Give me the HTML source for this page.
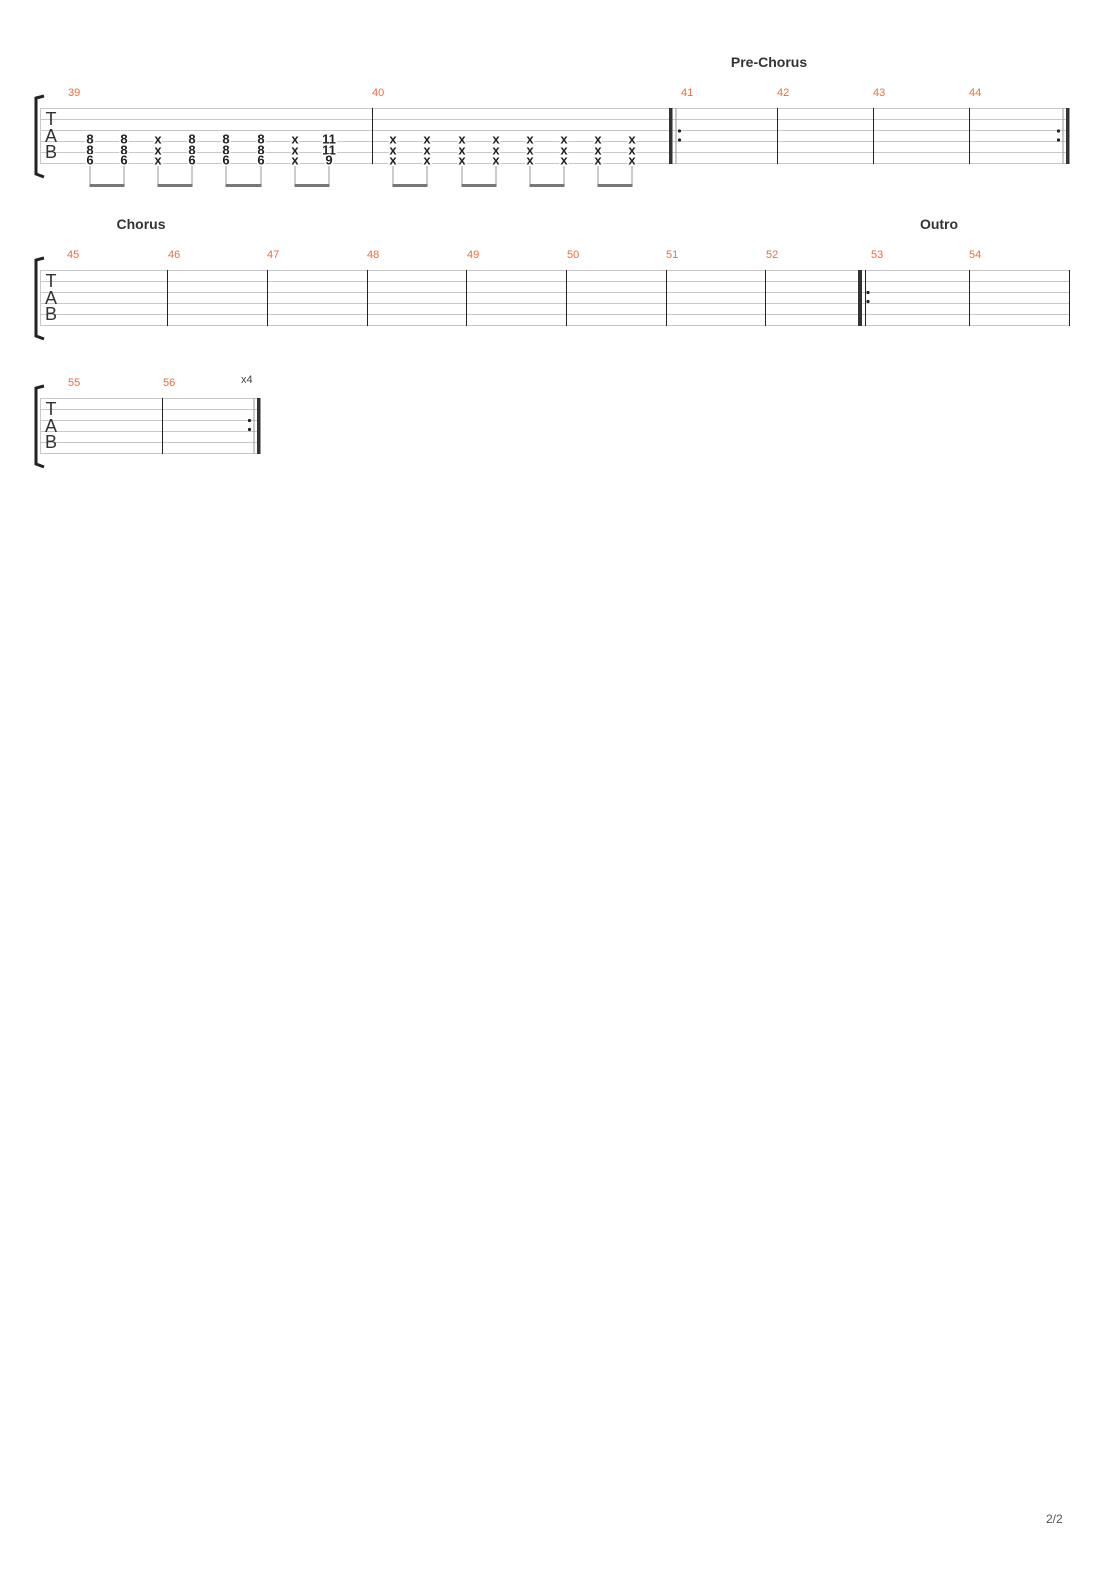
<!DOCTYPE html>
<html><head><meta charset="utf-8"><style>
html,body{margin:0;padding:0;background:#fff;width:1110px;height:1570px;overflow:hidden}
svg{display:block}
.st line{stroke:#c8c8c8;stroke-width:1}
.mn{font:11px "Liberation Sans",sans-serif;fill:#f26b3a}
.sec{font:bold 14px "Liberation Sans",sans-serif;fill:#333}
.nt{font:bold 13px "Liberation Sans",sans-serif;fill:#222;text-anchor:middle;dominant-baseline:central;paint-order:stroke;stroke:#fff;stroke-width:3px}
.tab{font:19px "Liberation Sans",sans-serif;fill:#333;text-anchor:middle}
</style></head><body>
<svg width="1110" height="1570" viewBox="0 0 1110 1570" xmlns="http://www.w3.org/2000/svg">
<defs>
<g id="tabl">
<text class="tab" x="51" y="25" style="font-size:18px">T</text>
<text class="tab" x="51" y="42" style="font-size:18px">A</text>
<text class="tab" x="51" y="58" style="font-size:18px">B</text>
</g>
</defs>

<!-- System 1 -->
<text class="sec" x="769" y="67" text-anchor="middle">Pre-Chorus</text>
<g class="st">
<line x1="40" y1="108.5" x2="1069" y2="108.5"/><line x1="40" y1="119.5" x2="1069" y2="119.5"/>
<line x1="40" y1="130.5" x2="1069" y2="130.5"/><line x1="40" y1="141.5" x2="1069" y2="141.5"/>
<line x1="40" y1="152.5" x2="1069" y2="152.5"/><line x1="40" y1="163.5" x2="1069" y2="163.5"/>
<line x1="40.5" y1="108" x2="40.5" y2="164"/>
</g>
<path d="M44 96 L36 98 L36 174 L44 177" fill="none" stroke="#222" stroke-width="3"/>
<g transform="translate(0,100)"><use href="#tabl"/></g>
<g stroke="#222" stroke-width="1">
<line x1="372.5" y1="108" x2="372.5" y2="164"/>
<line x1="777.5" y1="108" x2="777.5" y2="164"/>
<line x1="873.5" y1="108" x2="873.5" y2="164"/>
<line x1="969.5" y1="108" x2="969.5" y2="164"/>
</g>
<rect x="669" y="108" width="3.5" height="56" fill="#333"/>
<line x1="676" y1="108" x2="676" y2="164" stroke="#999" stroke-width="1"/>
<circle cx="679.5" cy="131" r="1.6" fill="#222"/><circle cx="679.5" cy="140" r="1.6" fill="#222"/>
<circle cx="1058.5" cy="131" r="1.6" fill="#222"/><circle cx="1058.5" cy="140" r="1.6" fill="#222"/>
<line x1="1063" y1="108" x2="1063" y2="164" stroke="#999" stroke-width="1"/>
<rect x="1066" y="108" width="3.5" height="56" fill="#333"/>
<text class="mn" x="68" y="96">39</text><text class="mn" x="372" y="96">40</text>
<text class="mn" x="681" y="96">41</text><text class="mn" x="777" y="96">42</text>
<text class="mn" x="873" y="96">43</text><text class="mn" x="969" y="96">44</text>

<!-- beams -->
<g stroke="#aaa" stroke-width="1.2">
<line x1="90" y1="166" x2="90" y2="186"/><line x1="124" y1="166" x2="124" y2="186"/>
<line x1="158" y1="166" x2="158" y2="186"/><line x1="192" y1="166" x2="192" y2="186"/>
<line x1="226" y1="166" x2="226" y2="186"/><line x1="261" y1="166" x2="261" y2="186"/>
<line x1="295" y1="166" x2="295" y2="186"/><line x1="329" y1="166" x2="329" y2="186"/>
<line x1="393" y1="166" x2="393" y2="186"/><line x1="427" y1="166" x2="427" y2="186"/>
<line x1="462" y1="166" x2="462" y2="186"/><line x1="496" y1="166" x2="496" y2="186"/>
<line x1="530" y1="166" x2="530" y2="186"/><line x1="564" y1="166" x2="564" y2="186"/>
<line x1="598" y1="166" x2="598" y2="186"/><line x1="632" y1="166" x2="632" y2="186"/>
</g>
<g fill="#777">
<rect x="89.5" y="184" width="35" height="3"/><rect x="157.5" y="184" width="35" height="3"/>
<rect x="225.5" y="184" width="36" height="3"/><rect x="294.5" y="184" width="35" height="3"/>
<rect x="392.5" y="184" width="35" height="3"/><rect x="461.5" y="184" width="35" height="3"/>
<rect x="529.5" y="184" width="35" height="3"/><rect x="597.5" y="184" width="35" height="3"/>
</g>
<g class="nt">
<text x="90" y="139">8</text><text x="90" y="150">8</text><text x="90" y="160">6</text>
<text x="124" y="139">8</text><text x="124" y="150">8</text><text x="124" y="160">6</text>
<text x="158" y="139">x</text><text x="158" y="150">x</text><text x="158" y="160">x</text>
<text x="192" y="139">8</text><text x="192" y="150">8</text><text x="192" y="160">6</text>
<text x="226" y="139">8</text><text x="226" y="150">8</text><text x="226" y="160">6</text>
<text x="261" y="139">8</text><text x="261" y="150">8</text><text x="261" y="160">6</text>
<text x="295" y="139">x</text><text x="295" y="150">x</text><text x="295" y="160">x</text>
<text x="329" y="139">11</text><text x="329" y="150">11</text><text x="329" y="160">9</text>
<text x="393" y="139">x</text><text x="393" y="150">x</text><text x="393" y="160">x</text>
<text x="427" y="139">x</text><text x="427" y="150">x</text><text x="427" y="160">x</text>
<text x="462" y="139">x</text><text x="462" y="150">x</text><text x="462" y="160">x</text>
<text x="496" y="139">x</text><text x="496" y="150">x</text><text x="496" y="160">x</text>
<text x="530" y="139">x</text><text x="530" y="150">x</text><text x="530" y="160">x</text>
<text x="564" y="139">x</text><text x="564" y="150">x</text><text x="564" y="160">x</text>
<text x="598" y="139">x</text><text x="598" y="150">x</text><text x="598" y="160">x</text>
<text x="632" y="139">x</text><text x="632" y="150">x</text><text x="632" y="160">x</text>
</g>

<!-- System 2 -->
<text class="sec" x="141" y="229" text-anchor="middle">Chorus</text>
<text class="sec" x="939" y="229" text-anchor="middle">Outro</text>
<g class="st">
<line x1="40" y1="270.5" x2="1070" y2="270.5"/><line x1="40" y1="281.5" x2="1070" y2="281.5"/>
<line x1="40" y1="292.5" x2="1070" y2="292.5"/><line x1="40" y1="303.5" x2="1070" y2="303.5"/>
<line x1="40" y1="314.5" x2="1070" y2="314.5"/><line x1="40" y1="325.5" x2="1070" y2="325.5"/>
<line x1="40.5" y1="270" x2="40.5" y2="326"/>
</g>
<path d="M44 258 L36 260 L36 336 L44 339" fill="none" stroke="#222" stroke-width="3"/>
<g transform="translate(0,262)"><use href="#tabl"/></g>
<g stroke="#222" stroke-width="1">
<line x1="167.5" y1="270" x2="167.5" y2="326"/><line x1="267.5" y1="270" x2="267.5" y2="326"/>
<line x1="367.5" y1="270" x2="367.5" y2="326"/><line x1="466.5" y1="270" x2="466.5" y2="326"/>
<line x1="566.5" y1="270" x2="566.5" y2="326"/><line x1="666.5" y1="270" x2="666.5" y2="326"/>
<line x1="765.5" y1="270" x2="765.5" y2="326"/><line x1="969.5" y1="270" x2="969.5" y2="326"/>
<line x1="1069.5" y1="270" x2="1069.5" y2="326"/>
<line x1="865.5" y1="270" x2="865.5" y2="326"/>
</g>
<rect x="858" y="270" width="4" height="56" fill="#333"/>
<circle cx="868" cy="292.5" r="1.6" fill="#222"/><circle cx="868" cy="301.5" r="1.6" fill="#222"/>
<text class="mn" x="67" y="258">45</text><text class="mn" x="168" y="258">46</text>
<text class="mn" x="267" y="258">47</text><text class="mn" x="367" y="258">48</text>
<text class="mn" x="467" y="258">49</text><text class="mn" x="567" y="258">50</text>
<text class="mn" x="666" y="258">51</text><text class="mn" x="766" y="258">52</text>
<text class="mn" x="871" y="258">53</text><text class="mn" x="969" y="258">54</text>

<!-- System 3 -->
<g class="st">
<line x1="40" y1="398.5" x2="260" y2="398.5"/><line x1="40" y1="409.5" x2="260" y2="409.5"/>
<line x1="40" y1="420.5" x2="260" y2="420.5"/><line x1="40" y1="431.5" x2="260" y2="431.5"/>
<line x1="40" y1="442.5" x2="260" y2="442.5"/><line x1="40" y1="453.5" x2="260" y2="453.5"/>
<line x1="40.5" y1="398" x2="40.5" y2="454"/>
</g>
<path d="M44 386 L36 388 L36 464 L44 467" fill="none" stroke="#222" stroke-width="3"/>
<g transform="translate(0,390)"><use href="#tabl"/></g>
<line x1="162.5" y1="398" x2="162.5" y2="454" stroke="#222" stroke-width="1"/>
<circle cx="249.5" cy="420.5" r="1.6" fill="#222"/><circle cx="249.5" cy="429.5" r="1.6" fill="#222"/>
<line x1="254" y1="398" x2="254" y2="454" stroke="#999" stroke-width="1"/>
<rect x="257" y="398" width="3.5" height="56" fill="#333"/>
<text class="mn" x="68" y="386">55</text><text class="mn" x="163" y="386">56</text>
<text x="241" y="383" style="font:11px 'Liberation Sans',sans-serif;fill:#444">x4</text>

<text x="1046" y="1523" style="font:12px 'Liberation Sans',sans-serif;fill:#555">2/2</text>
</svg>
</body></html>
